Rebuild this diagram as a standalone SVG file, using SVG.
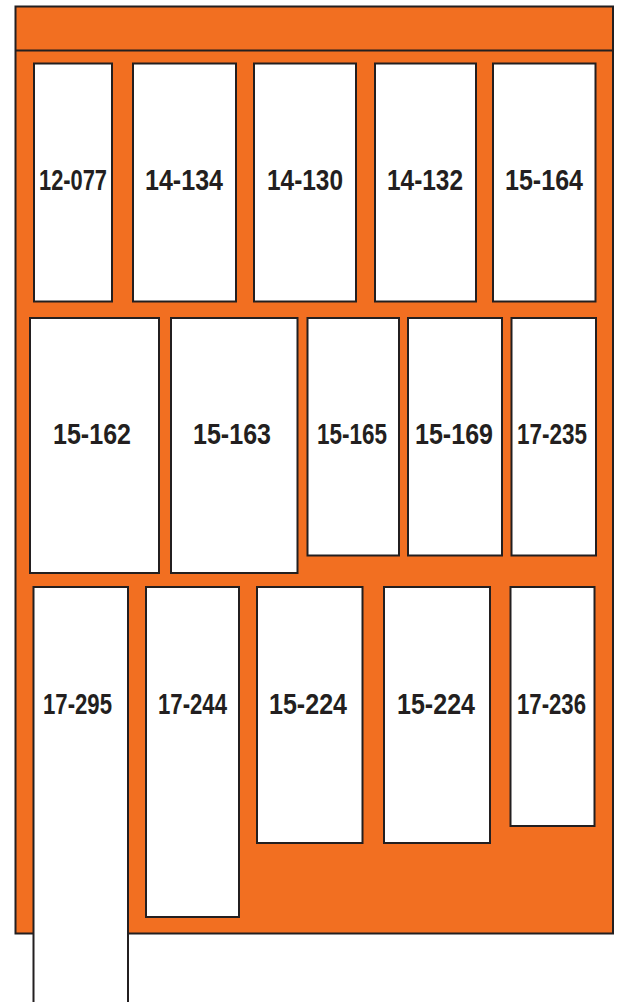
<svg xmlns="http://www.w3.org/2000/svg" width="617" height="1002" viewBox="0 0 617 1002">
<style>
.frame{fill:#f26f21;stroke:#231f20;stroke-width:2}
.box{fill:#ffffff;stroke:#231f20;stroke-width:2}
.lbl{font-family:"Liberation Sans",Arial,sans-serif;font-weight:bold;font-size:29px;fill:#231f20;text-anchor:middle}
</style>
<rect width="617" height="1002" fill="#ffffff"/>
<g id="frame">
<rect class="frame" x="15.5" y="6.5" width="597.5" height="927"/>
<line x1="15.5" y1="50.5" x2="613" y2="50.5" stroke="#231f20" stroke-width="2"/>
</g>
<g id="n12-077"><rect class="box" x="34" y="63.5" width="78" height="238"/><text class="lbl" x="73" y="190" textLength="68" lengthAdjust="spacingAndGlyphs">12-077</text></g>
<g id="n14-134"><rect class="box" x="133" y="63.5" width="103" height="238"/><text class="lbl" x="184" y="190" textLength="78" lengthAdjust="spacingAndGlyphs">14-134</text></g>
<g id="n14-130"><rect class="box" x="254" y="63.5" width="102" height="238"/><text class="lbl" x="305" y="190" textLength="76" lengthAdjust="spacingAndGlyphs">14-130</text></g>
<g id="n14-132"><rect class="box" x="375" y="63.5" width="101" height="238"/><text class="lbl" x="425" y="190" textLength="76" lengthAdjust="spacingAndGlyphs">14-132</text></g>
<g id="n15-164"><rect class="box" x="493" y="63.5" width="102.5" height="238"/><text class="lbl" x="544" y="190" textLength="78" lengthAdjust="spacingAndGlyphs">15-164</text></g>
<g id="n15-162"><rect class="box" x="30" y="318" width="129" height="255"/><text class="lbl" x="92" y="444" textLength="78" lengthAdjust="spacingAndGlyphs">15-162</text></g>
<g id="n15-163"><rect class="box" x="171" y="318" width="126.5" height="255"/><text class="lbl" x="232" y="444" textLength="78" lengthAdjust="spacingAndGlyphs">15-163</text></g>
<g id="n15-165"><rect class="box" x="307.5" y="318" width="91.5" height="237.5"/><text class="lbl" x="352" y="444" textLength="70" lengthAdjust="spacingAndGlyphs">15-165</text></g>
<g id="n15-169"><rect class="box" x="408" y="318" width="94" height="237.5"/><text class="lbl" x="454" y="444" textLength="78" lengthAdjust="spacingAndGlyphs">15-169</text></g>
<g id="n17-235"><rect class="box" x="511.5" y="318" width="84.5" height="237.5"/><text class="lbl" x="552" y="444" textLength="70" lengthAdjust="spacingAndGlyphs">17-235</text></g>
<g id="n17-295"><rect class="box" x="33.5" y="587" width="94.5" height="420"/><text class="lbl" x="77.5" y="714" textLength="69" lengthAdjust="spacingAndGlyphs">17-295</text></g>
<g id="n17-244"><rect class="box" x="146" y="587" width="93" height="330"/><text class="lbl" x="192.5" y="714" textLength="69" lengthAdjust="spacingAndGlyphs">17-244</text></g>
<g id="n15-224a"><rect class="box" x="257" y="587" width="105.5" height="256"/><text class="lbl" x="308" y="714" textLength="78" lengthAdjust="spacingAndGlyphs">15-224</text></g>
<g id="n15-224b"><rect class="box" x="384" y="587" width="106" height="256"/><text class="lbl" x="436" y="714" textLength="78" lengthAdjust="spacingAndGlyphs">15-224</text></g>
<g id="n17-236"><rect class="box" x="510.5" y="587" width="84" height="239"/><text class="lbl" x="551.5" y="714" textLength="69" lengthAdjust="spacingAndGlyphs">17-236</text></g>
<g id="connectors"></g>
</svg>
